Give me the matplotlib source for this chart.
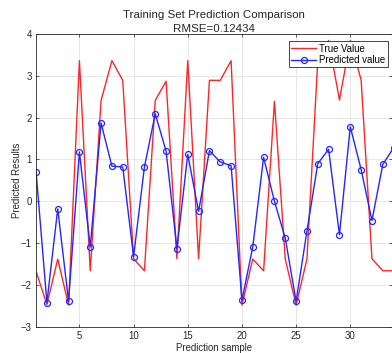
import numpy as np
import matplotlib
matplotlib.use("Agg")
from matplotlib import pyplot as plt

plt.rcParams['font.family'] = ['Liberation Sans', 'DejaVu Sans']
plt.rcParams['font.size'] = 6.9

# sample index, true values and model predictions
samples = list(range(1, 35))
true_vals = [-1.67, -2.47, -1.38, -2.48, 3.36, -1.66, 2.41, 3.36, 2.89, -1.37,
             -1.66, 2.41, 2.87, -1.37, 3.36, -1.37, 2.89, 2.89, 3.36, -2.48,
             -1.38, -1.66, 2.39, -1.38, -2.48, -1.38, 3.36, 3.84, 2.42, 3.84,
             2.90, -1.37, -1.66, -1.66]
pred_vals = [0.71, -2.42, -0.18, -2.39, 1.18, -1.09, 1.87, 0.84, 0.82, -1.32,
             0.82, 2.09, 1.20, -1.13, 1.12, -0.24, 1.21, 0.94, 0.85, -2.36,
             -1.09, 1.05, 0.00, -0.88, -2.39, -0.71, 0.90, 1.24, -0.80, 1.78,
             0.76, -0.46, 0.88, 1.28]
rmse = 0.12434

fig = plt.figure(figsize=(3.92, 3.53), dpi=100)
ax = fig.add_axes([0.092, 0.074, 0.908, 0.830])

ax.plot(samples, true_vals, color=(1, 0.15, 0.15), lw=1.0, label='True Value')
ax.plot(samples, pred_vals, color=(0.15, 0.15, 1), lw=1.0, marker='o', ms=4.3,
        mfc='none', mew=0.9, label='Predicted value')

ax.set_xlim(1, 33.85)
ax.set_ylim(-3, 4)
ax.set_xticks([5, 10, 15, 20, 25, 30])
ax.set_yticks(range(-3, 5))
ax.grid(True, color='#e3e3e3', lw=0.6)
ax.set_axisbelow(True)
ax.tick_params(direction='in', length=2.5, width=0.6, colors='#404040',
               top=True, right=True, labelcolor='#262626', pad=3)
for s in ax.spines.values():
    s.set_color('#262626')
    s.set_linewidth(0.6)
ax.spines['right'].set_visible(False)

ax.set_xlabel('Prediction sample', color='#262626', labelpad=1.5)
ax.set_ylabel('Predicted Results', color='#262626', labelpad=-1)
ax.set_title('Training Set Prediction Comparison\nRMSE=%.5f' % rmse,
             color='#262626', pad=1, linespacing=1.55)

leg = ax.legend(loc='upper right', bbox_to_anchor=(0.988, 0.975), fontsize=6.9,
                fancybox=False, edgecolor='#262626', framealpha=1,
                borderpad=0.25, labelspacing=0.15, handlelength=2.6,
                handletextpad=0.3, borderaxespad=0)
leg.get_frame().set_linewidth(0.6)

fig.savefig('out.png', dpi=100)
